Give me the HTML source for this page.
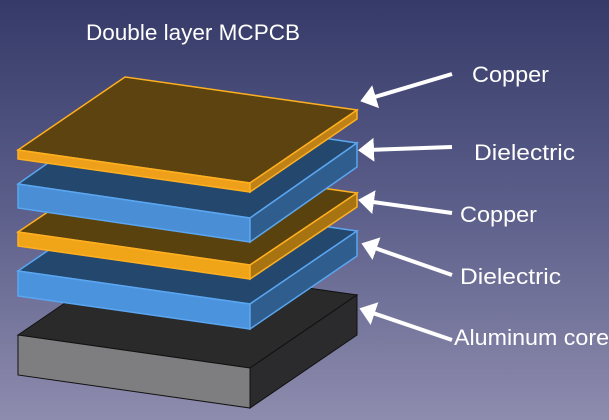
<!DOCTYPE html>
<html><head><style>
html,body{margin:0;padding:0;width:609px;height:420px;overflow:hidden}
body{background:linear-gradient(180deg,#363a68 0%,#5c5f8a 50%,#8e8cae 100%)}
svg{position:absolute;left:0;top:0}
text{font-family:"Liberation Sans",sans-serif;fill:#fff;font-size:22px}
</style></head><body>
<svg width="609" height="420" viewBox="0 0 609 420">
<defs><marker id="a" markerWidth="6" markerHeight="6" refX="2" refY="3" orient="auto" markerUnits="strokeWidth"><path d="M0,0 L4,3 L0,6 Z" fill="#fff"/></marker></defs>
<g stroke="#111" stroke-width="1">
<polygon points="18,335 250,368 357,295 125,262" fill="#2a2a2a"/>
<polygon points="18,335 250,368 250,408 18,375" fill="#7e7e80"/>
<polygon points="250,368 357,295 357,335 250,408" fill="#2b2b2d"/>
</g>
<g stroke="#5aa6f0" stroke-width="1.5">
<polygon points="18,271 250,304 357,231 125,198" fill="#24476e"/>
<polygon points="18,271 250,304 250,329 18,296" fill="#4b93dc"/>
<polygon points="250,304 357,231 357,256 250,329" fill="#2f5d8e"/>
</g>
<g stroke="#ffb020" stroke-width="1.5">
<polygon points="18,232 250,265 357,193 125,160" fill="#5a420f"/>
<polygon points="18,232 250,265 250,279 18,246" fill="#f0a418"/>
<polygon points="250,265 357,193 357,207 250,279" fill="#a87412"/>
</g>
<g stroke="#5aa6f0" stroke-width="1.5">
<polygon points="18,184 250,218 357,143 125,109" fill="#24476e"/>
<polygon points="18,184 250,218 250,242 18,208" fill="#4a8fd6"/>
<polygon points="250,218 357,143 357,167 250,242" fill="#2f5d8e"/>
</g>
<g stroke="#ffb020" stroke-width="1.5">
<polygon points="18,150 250,183 357,110 125,77" fill="#5c430f"/>
<polygon points="18,150 250,183 250,192 18,159" fill="#eea01a"/>
<polygon points="250,183 357,110 357,119 250,192" fill="#c08216"/>
</g>
<g stroke="#fff" stroke-width="4" fill="none" marker-end="url(#a)">
<line x1="452" y1="74" x2="368" y2="99"/>
<line x1="452" y1="147" x2="366" y2="150"/>
<line x1="452" y1="213" x2="366" y2="201"/>
<line x1="452" y1="275" x2="369" y2="246"/>
<line x1="452" y1="340" x2="367" y2="311"/>
</g>
<text x="86" y="40" textLength="214" lengthAdjust="spacingAndGlyphs">Double layer MCPCB</text>
<text x="472" y="82" textLength="77" lengthAdjust="spacingAndGlyphs">Copper</text>
<text x="474" y="160" textLength="101" lengthAdjust="spacingAndGlyphs">Dielectric</text>
<text x="460" y="222" textLength="77" lengthAdjust="spacingAndGlyphs">Copper</text>
<text x="460" y="284" textLength="101" lengthAdjust="spacingAndGlyphs">Dielectric</text>
<text x="454" y="345" textLength="155" lengthAdjust="spacingAndGlyphs">Aluminum core</text>
</svg>
</body></html>
